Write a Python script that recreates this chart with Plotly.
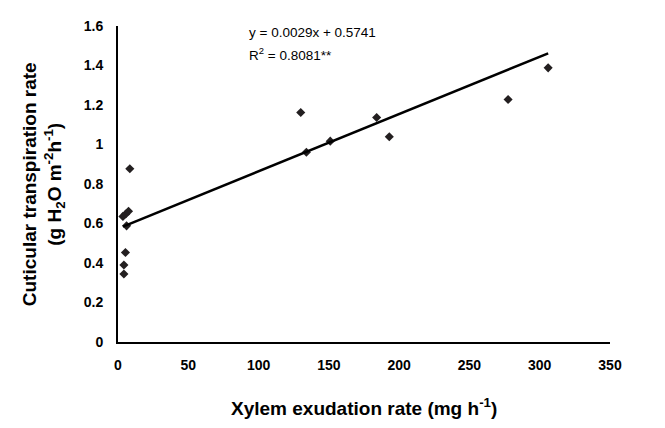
import plotly.graph_objects as go

# Data
xylem_exudation = [4.2, 4.2, 5.3, 6.1, 3.5, 5.5, 7.5, 8.4, 130, 134, 151, 184, 193, 277.5, 306]
cuticular_transp = [0.344, 0.39, 0.453, 0.588, 0.636, 0.648, 0.662, 0.877, 1.162, 0.961, 1.017, 1.137, 1.039, 1.228, 1.388]
trend_slope = 0.0029
trend_intercept = 0.5741
r_squared_text = "0.8081**"
x_ticks = [0, 50, 100, 150, 200, 250, 300, 350]
y_ticks = [0, 0.2, 0.4, 0.6, 0.8, 1, 1.2, 1.4, 1.6]

x_min = min(xylem_exudation)
x_max = max(xylem_exudation)
trend_x = [x_min, x_max]
trend_y = [trend_slope * v + trend_intercept for v in trend_x]

FONT = "Liberation Sans, Arial"

fig = go.Figure()
fig.add_trace(go.Scatter(
    x=xylem_exudation, y=cuticular_transp, mode="markers",
    marker=dict(symbol="diamond", size=7, color="#231f20"),
    showlegend=False, cliponaxis=False,
))
fig.add_trace(go.Scatter(
    x=trend_x, y=trend_y, mode="lines",
    line=dict(color="black", width=2.6),
    showlegend=False,
))

fig.add_annotation(
    xref="paper", yref="paper", x=0.262, y=0.978, xanchor="left", yanchor="middle",
    text=f"y = {trend_slope:.4f}x + {trend_intercept:.4f}",
    showarrow=False, font=dict(family=FONT, size=13.5, color="black"),
)
fig.add_annotation(
    xref="paper", yref="paper", x=0.262, y=0.91, xanchor="left", yanchor="middle",
    text=f"R<sup>2</sup> = {r_squared_text}",
    showarrow=False, font=dict(family=FONT, size=13.5, color="black"),
)
# Axis titles
fig.add_annotation(
    xref="paper", yref="paper", x=0.5, y=-0.205, xanchor="center", yanchor="middle",
    text="<b>Xylem exudation rate (mg h<sup>-1</sup>)</b>",
    showarrow=False, font=dict(family=FONT, size=19, color="black"),
)
fig.add_annotation(
    xref="paper", yref="paper", x=-0.152, y=0.5, xanchor="center", yanchor="middle",
    textangle=-90,
    text="<b>Cuticular transpiration rate<br>(g H<sub>2</sub>O m<sup>-2</sup>h<sup>-1</sup>)</b>",
    showarrow=False, font=dict(family=FONT, size=19, color="black"),
)

axis_font = dict(family=FONT, size=14, color="black")
fig.update_xaxes(
    range=[0, 350], tickvals=x_ticks, ticktext=[f"<b>{v}</b>" for v in x_ticks],
    showgrid=False, zeroline=False, showline=True, linecolor="black", linewidth=2,
    ticks="outside", ticklen=9, tickcolor="rgba(0,0,0,0)", tickfont=axis_font,
)
fig.update_yaxes(
    range=[0, 1.6], tickvals=y_ticks, ticktext=[f"<b>{v:g}</b>" for v in y_ticks],
    showgrid=False, zeroline=False, showline=True, linecolor="black", linewidth=2,
    ticks="outside", ticklen=10, tickcolor="rgba(0,0,0,0)", tickfont=axis_font,
)
# The page body adds an 8px margin, so the figure is sized/offset to compensate
fig.update_layout(
    width=649, height=412,
    margin=dict(l=110, r=47, t=10, b=78),
    plot_bgcolor="white", paper_bgcolor="white",
)
fig.write_html("out.html")
